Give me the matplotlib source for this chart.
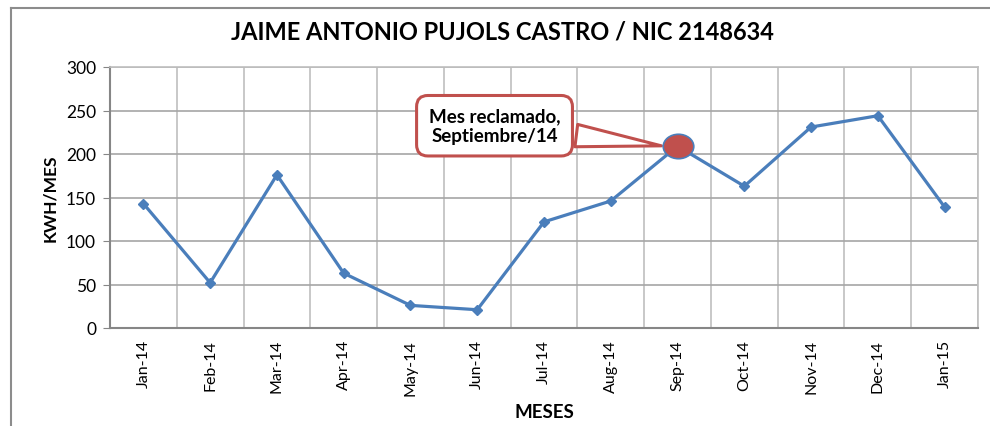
import numpy as np
import matplotlib
matplotlib.use("Agg")
import matplotlib.pyplot as plt
from matplotlib.lines import Line2D
from matplotlib.path import Path
from matplotlib.transforms import Affine2D

# Datos de consumo mensual
meses = ["Jan-14", "Feb-14", "Mar-14", "Apr-14", "May-14", "Jun-14",
         "Jul-14", "Aug-14", "Sep-14", "Oct-14", "Nov-14", "Dec-14", "Jan-15"]
kwh = [143, 52, 176, 63, 26, 21, 122, 146, 209, 163, 231, 244, 139]
mes_reclamado = "Sep-14"

plt.rcParams['font.family'] = ['Lato', 'DejaVu Sans']

fig = plt.figure(figsize=(9.9, 4.27), dpi=100)
ax = fig.add_axes([110 / 990, 1 - 329 / 427, 868 / 990, 261 / 427])

x = np.arange(len(meses))
ax.plot(x, kwh, color='#4a7ebb', linewidth=2.3, marker='D', markersize=5.5,
        markerfacecolor='#4a7ebb', markeredgecolor='#4a7ebb', zorder=3)

# Mes reclamado resaltado (elipse)
elipse = Path.unit_circle().transformed(Affine2D().scale(1.0, 0.8))
i_rec = meses.index(mes_reclamado)
ax.plot(x[i_rec], kwh[i_rec], marker=elipse, markersize=22, markerfacecolor='#c0504d',
        markeredgecolor='#4a7ebb', markeredgewidth=1.2, linestyle='none', zorder=6)

ax.annotate("Mes reclamado,\nSeptiembre/14", xy=(x[i_rec] - 0.2, kwh[i_rec]),
            xytext=(0.443, 0.775), textcoords='axes fraction',
            ha='center', va='center', fontsize=13.5, fontweight='bold',
            linespacing=1.15,
            bbox=dict(boxstyle='round,pad=0.65,rounding_size=0.6', fc='white',
                      ec='#c0504d', lw=2.2),
            arrowprops=dict(arrowstyle='wedge,tail_width=1.2,shrink_factor=0.5',
                            fc='white', ec='#c0504d', lw=2.2),
            zorder=5)

ax.set_xlim(-0.5, len(meses) - 0.5)
ax.set_ylim(0, 300)
ax.set_yticks(np.arange(0, 301, 50))
ax.set_xticks(x)
ax.set_xticklabels(meses, rotation=90, fontsize=11.5)
ax.set_xticks(np.arange(-0.5, len(meses), 1), minor=True)
ax.tick_params(axis='x', which='both', length=0, pad=8)
ax.tick_params(axis='y', length=5, color='#868686', labelsize=12.5, pad=5)

ax.grid(True, axis='y', which='major', color='#a6a6a6', linewidth=1.2)
ax.grid(True, axis='x', which='minor', color='#bfbfbf', linewidth=1.2)
ax.set_axisbelow(True)

for s in ['left', 'bottom']:
    ax.spines[s].set_color('#868686')
    ax.spines[s].set_linewidth(1.5)
for s in ['top', 'right']:
    ax.spines[s].set_color('#bfbfbf')
    ax.spines[s].set_linewidth(1.2)

ax.set_ylabel("KWH/MES", fontsize=12.5, fontweight='bold', labelpad=6)
ax.set_xlabel("MESES", fontsize=13.5, fontweight='bold', labelpad=6)
fig.text(0.508, 0.925, "JAIME ANTONIO PUJOLS CASTRO / NIC 2148634",
         ha='center', va='center', fontsize=17, fontweight='bold')

# marco exterior
fig.add_artist(Line2D([11 / 990, 11 / 990], [0, 1 - 9 / 427], color='#8c8c8c', lw=1.5))
fig.add_artist(Line2D([11 / 990, 1], [1 - 9 / 427, 1 - 9 / 427], color='#8c8c8c', lw=1.5))

fig.savefig("out.png", dpi=100)
